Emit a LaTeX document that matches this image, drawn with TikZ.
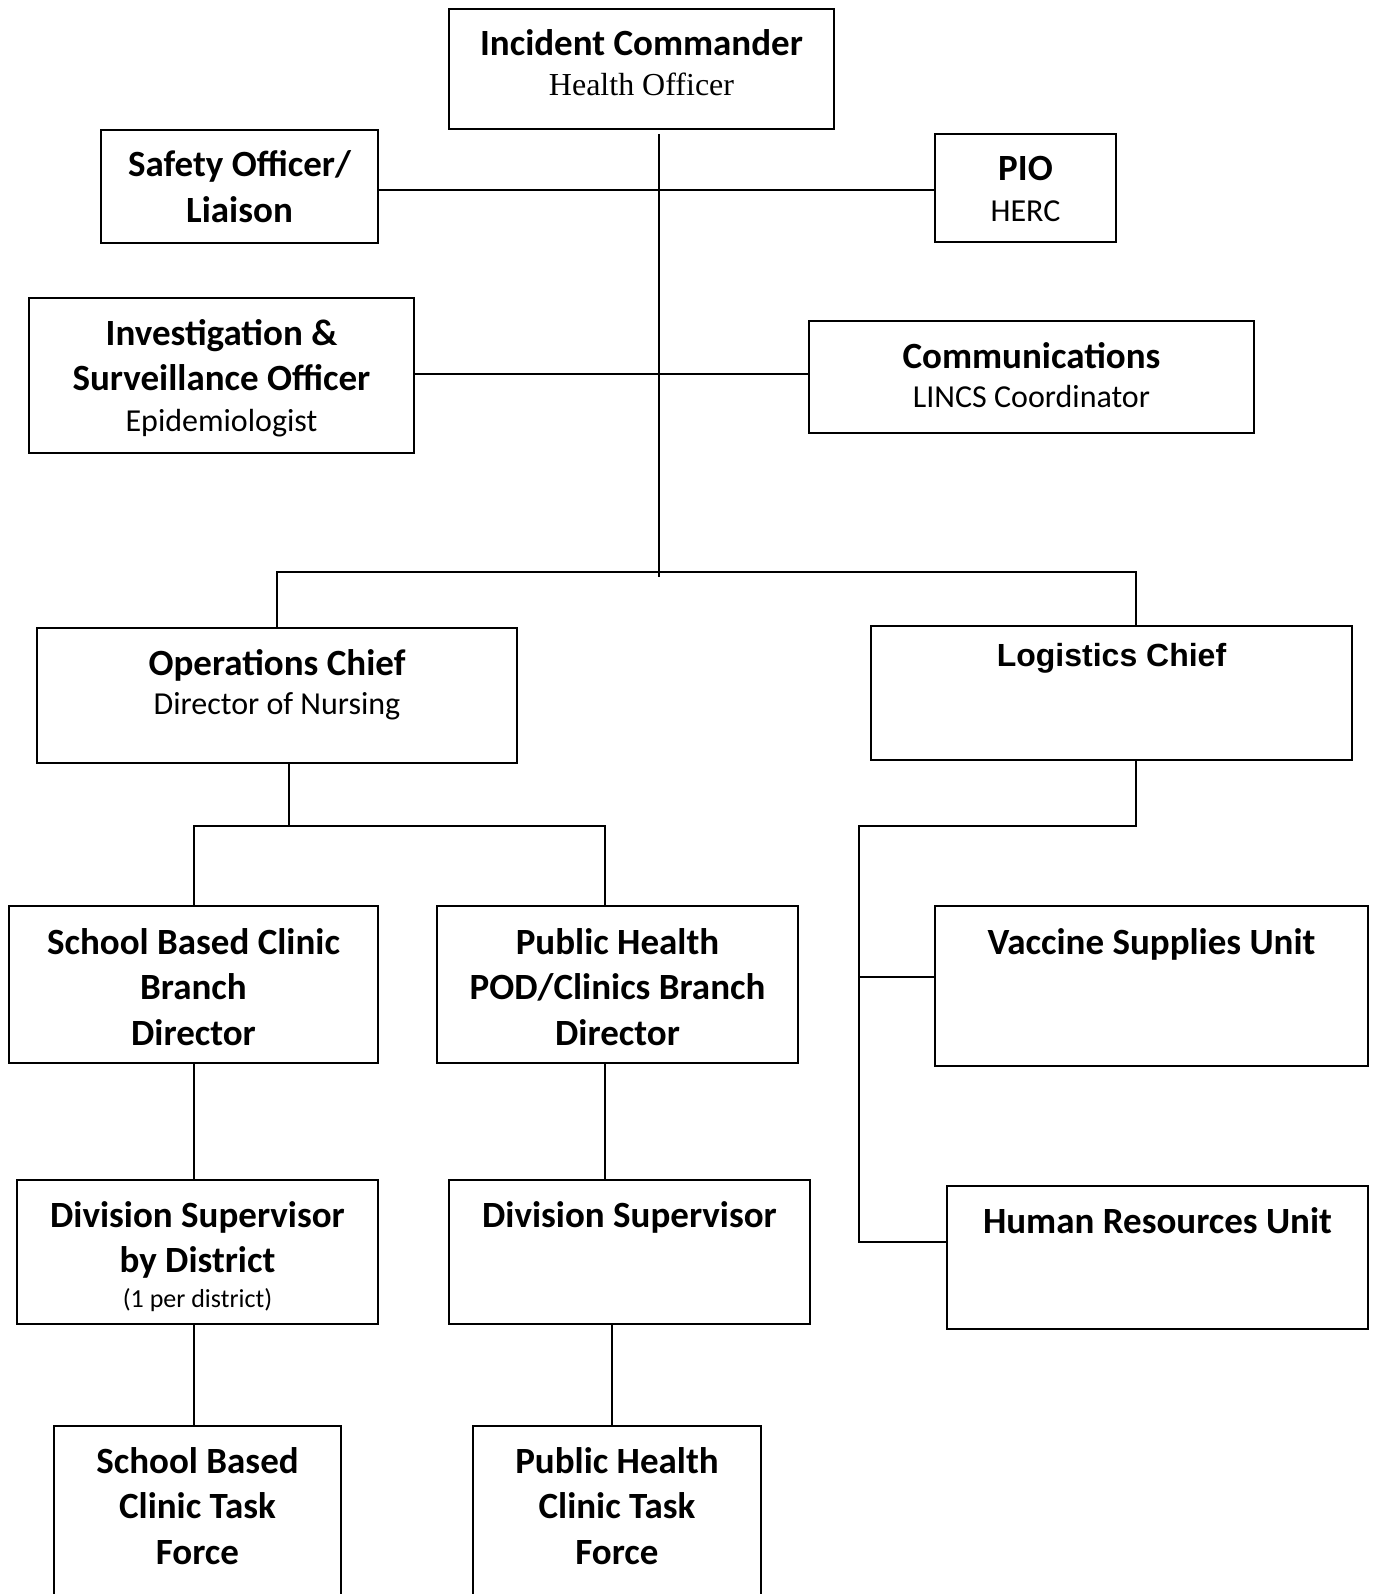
\documentclass[tikz,border=0pt]{standalone}
\usepackage{fontspec}
\setmainfont{Carlito}
\newfontfamily\timesfont{Liberation Serif}
\newfontfamily\arialfont{Liberation Sans}
\usepackage{tikz}
\usetikzlibrary{positioning}

\newcommand{\subline}[1]{{\fontsize{32}{40}\selectfont\mdseries #1}}

\begin{document}
\begin{tikzpicture}[x=1pt, y=-1pt,
    box/.style={draw, line width=2pt, anchor=north west, inner sep=0pt, align=flush center,
                text height=47pt, font=\fontsize{37}{45.5}\selectfont\bfseries},
    link/.style={line width=2pt}]
    \clip (0,0) rectangle (1378,1594);

    % Command staff
    \node[box, text width=385pt, text depth=73pt] (ic) at (448,8)
        {Incident Commander\\[-6pt]{\timesfont\fontsize{32}{40}\selectfont\mdseries Health Officer}};
    \node[box, text width=277pt, text depth=66pt] (safety) at (100,129) {Safety Officer/\\Liaison};
    \node[box, text width=181pt, text depth=61pt] (pio) at (934,133) {PIO\\[-5pt]\subline{HERC}};
    \node[box, text width=385pt, text depth=108pt] (inv) at (28,297)
        {Investigation \&\\Surveillance Officer\\[-4.5pt]\subline{Epidemiologist}};
    \node[box, text width=445pt, text depth=65pt] (comm) at (808,320)
        {Communications\\[-6pt]\subline{LINCS Coordinator}};

    % Section chiefs
    \node[box, text width=480pt, text depth=88pt] (ops) at (36,627)
        {Operations Chief\\[-6.5pt]\subline{Director of Nursing}};
    \node[box, text width=481pt, text height=40pt, text depth=94pt,
          font=\arialfont\fontsize{32}{40}\selectfont\bfseries] (log) at (870,625) {Logistics Chief};

    % Branches and units
    \node[box, text width=369pt, text height=48pt, text depth=109pt] (sbb) at (8,905)
        {School Based Clinic\\Branch\\Director};
    \node[box, text width=361pt, text height=48pt, text depth=109pt] (phb) at (436,905)
        {Public Health\\POD/Clinics Branch\\Director};
    \node[box, text width=433pt, text height=48pt, text depth=112pt] (vac) at (934,905) {Vaccine Supplies Unit};
    \node[box, text width=361pt, text depth=97pt] (dsd) at (16,1179)
        {Division Supervisor\\by District\\[-10.5pt]{\fontsize{26}{32}\selectfont\mdseries (1 per district)}};
    \node[box, text width=361pt, text depth=97pt] (ds) at (448,1179) {Division Supervisor};
    \node[box, text width=421pt, text depth=96pt] (hr) at (946,1185) {Human Resources Unit};

    % Task forces
    \node[box, text width=287pt, text depth=300pt] (sbt) at (53,1425) {School Based\\Clinic Task\\Force};
    \node[box, text width=288pt, text depth=300pt] (pht) at (472,1425) {Public Health\\Clinic Task\\Force};

    % Junction points
    \coordinate (trunktop) at (659,134);
    \coordinate (trunkend) at (659,577);
    \coordinate (hub) at (659,572);
    \coordinate (login) at (1136,625);
    \coordinate (opsout) at (289,762);
    \coordinate (opsbus) at (289,826);
    \coordinate (phbin) at (605,905);
    \coordinate (logout) at (1136,759);
    \coordinate (logbus) at (859,826);
    \coordinate (vacin) at (934,977);
    \coordinate (hrin) at (946,1242);
    \coordinate (dsout) at (612,1323);

    % Connectors
    \draw[link] (trunktop) -- (trunkend);
    \draw[link] ([yshift=-4pt]safety.east) -- ([yshift=-4pt]safety.east -| pio.west);
    \draw[link] ([yshift=2pt]inv.east) -- ([yshift=2pt]inv.east -| comm.west);
    \draw[link] (ops.north) |- (hub) -| (login);
    \draw[link] (opsout) -- (opsbus);
    \draw[link] (sbb.north) |- (opsbus) -| (phbin);
    \draw[link] (logout) |- (logbus) |- (hrin);
    \draw[link] (logbus |- vacin) -- (vacin);
    \draw[link] (sbb.south) -- (sbb.south |- dsd.north);
    \draw[link] (phbin |- phb.south) -- (phbin |- ds.north);
    \draw[link] (sbb.south |- dsd.south) -- (sbb.south |- sbt.north);
    \draw[link] (dsout) -- (dsout |- pht.north);
\end{tikzpicture}
\end{document}
